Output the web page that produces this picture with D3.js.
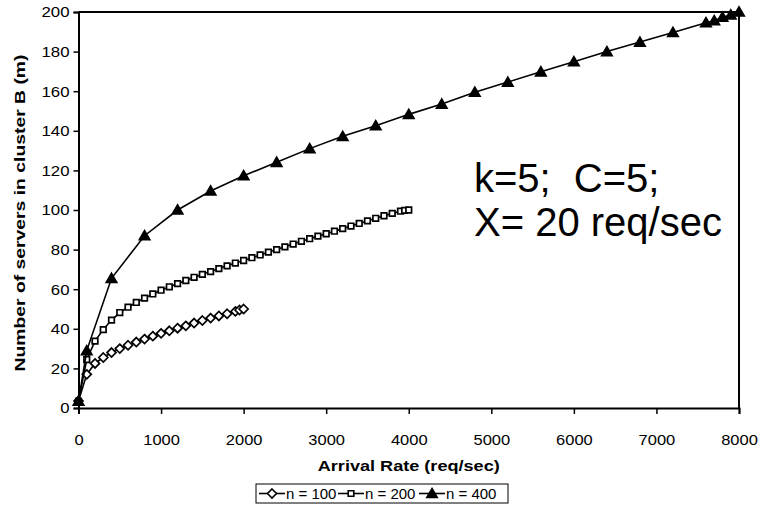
<!DOCTYPE html>
<html><head><meta charset="utf-8">
<script src="https://cdn.jsdelivr.net/npm/d3@7"></script>
<style>
body{margin:0;background:#fff}
svg{display:block}
text{font-family:"Liberation Sans",Arial,Helvetica,sans-serif;fill:#000}
</style>
</head><body>
<svg id="c" width="761" height="510"></svg>
<script>
// ---- data ----
const xTickValues = [0,1000,2000,3000,4000,5000,6000,7000,8000];
const yTickValues = [0,20,40,60,80,100,120,140,160,180,200];
const seriesNames = ["n = 100","n = 200","n = 400"];
const xTitle = "Arrival Rate (req/sec)";
const yTitle = "Number of servers in cluster B (m)";
const annotationLines = ["k=5; C=5;", "X= 20 req/sec"];

const rates100   = [0,100,200,300,400,500,600,700,800,900,1000,1100,1200,1300,1400,1500,1600,1700,1800,1900,1950,2000];
const servers100 = [3.5,17,22.5,25.5,28,30,31.7,33.3,34.8,36.3,37.7,39,40.3,41.5,42.9,44.2,45.4,46.5,47.6,48.8,49.5,50];

const rates200   = [0,100,200,300,400,500,600,700,800,900,1000,1100,1200,1300,1400,1500,1600,1700,1800,1900,2000,2100,2200,2300,2400,2500,2600,2700,2800,2900,3000,3100,3200,3300,3400,3500,3600,3700,3800,3900,3950,4000];
const servers200 = [3.5,24.5,33.8,39.6,44.4,48.2,50.9,53.3,55.5,57.6,59.5,61.2,62.8,64.4,66,67.5,68.9,70.4,71.8,73.2,74.5,75.9,77.3,78.7,80,81.4,82.8,84.2,85.5,86.8,88,89.3,90.6,91.9,93.2,94.5,95.8,97.1,98.3,99.4,99.8,100];

const rates400   = [0,100,400,800,1200,1600,2000,2400,2800,3200,3600,4000,4400,4800,5200,5600,6000,6400,6800,7200,7600,7700,7800,7900,8000];
const servers400 = [3.5,29,65.5,87,100,109.6,117.3,124.1,131,137.2,142.6,148.3,153.5,159.5,164.6,169.8,174.9,180,184.8,189.7,194.6,195.6,197.4,198.5,200];

// ---- layout ----
const svg = d3.select("#c");
const L = 78.5, R = 739, T = 12, B = 408;
const x = d3.scaleLinear().domain([0,8000]).range([L,R]);
const y = d3.scaleLinear().domain([0,200]).range([B,T]);

const markerPaths = {
  diamond: "M0,-4.5L4.5,0L0,4.5L-4.5,0Z",
  square: "M-2.8,-2.8H2.8V2.8H-2.8Z",
  triangle: "M0,-5L5.2,4L-5.2,4Z"
};
const series = [
  {name: seriesNames[0], xs: rates100, ys: servers100, marker: "diamond", fill: "#fff"},
  {name: seriesNames[1], xs: rates200, ys: servers200, marker: "square", fill: "#fff"},
  {name: seriesNames[2], xs: rates400, ys: servers400, marker: "triangle", fill: "#000"}
];

// frame (top & right)
svg.append("path")
  .attr("d", `M${L},${T}H${R}V${B}`)
  .attr("fill","none").attr("stroke","#000").attr("stroke-width",2);

// axes
const xAxis = svg.append("g").attr("transform",`translate(0,${B})`)
  .call(d3.axisBottom(x).tickValues(xTickValues).tickSize(6).tickPadding(20).tickFormat(d3.format("d")));
const yAxis = svg.append("g").attr("transform",`translate(${L},0)`)
  .call(d3.axisLeft(y).tickValues(yTickValues).tickSize(5).tickFormat(d3.format("d")));
[xAxis,yAxis].forEach(a=>{
  a.select(".domain").attr("stroke","#000").attr("stroke-width",2);
  a.selectAll(".tick line").attr("stroke","#000").attr("stroke-width",1.5);
  a.selectAll(".tick text").attr("font-size",15).attr("font-family",null);
});
xAxis.selectAll(".tick text").each(function(){
  const t = d3.select(this); const yy = +t.attr("y");
  t.attr("y",0).attr("dy","0.71em").attr("transform",`translate(0,${yy}) scale(1.1,1)`);
});
yAxis.selectAll(".tick text").each(function(){
  const t = d3.select(this); const xx = +t.attr("x");
  t.attr("x",0).attr("transform",`translate(${xx-1},0) scale(1.12,1)`);
});

// titles
svg.append("text").attr("x",(L+R)/2).attr("y",471)
  .attr("text-anchor","middle").attr("font-weight","bold").attr("font-size",15.5)
  .attr("textLength",182).attr("lengthAdjust","spacingAndGlyphs").text(xTitle);
svg.append("text").attr("transform",`translate(25,213) rotate(-90)`)
  .attr("text-anchor","middle").attr("font-weight","bold").attr("font-size",15.5)
  .attr("textLength",317).attr("lengthAdjust","spacingAndGlyphs").text(yTitle);

// series
const line = d3.line().x(d=>x(d[0])).y(d=>y(d[1]));
series.forEach(s=>{
  const pts = s.xs.map((v,i)=>[v,s.ys[i]]);
  svg.append("path").datum(pts).attr("d",line)
    .attr("fill","none").attr("stroke","#000").attr("stroke-width",1.6);
  svg.append("g").selectAll("path").data(pts).join("path")
    .attr("d",markerPaths[s.marker])
    .attr("transform",d=>`translate(${x(d[0])},${y(d[1])})`)
    .attr("fill",s.fill).attr("stroke","#000").attr("stroke-width",1.7);
});

// annotation
svg.append("text").attr("x",474).attr("y",192).attr("font-size",40)
  .attr("word-spacing",12).text(annotationLines[0]);
svg.append("text").attr("x",474).attr("y",236).attr("font-size",40).text(annotationLines[1]);

// legend
const lg = svg.append("g");
lg.append("rect").attr("x",256).attr("y",484).attr("width",252).attr("height",19)
  .attr("fill","#fff").attr("stroke","#000").attr("stroke-width",1);
const itemX = [259, 338, 419];
series.forEach((s,i)=>{
  const x0 = itemX[i], cy = 493.5;
  lg.append("line").attr("x1",x0).attr("x2",x0+26).attr("y1",cy).attr("y2",cy)
    .attr("stroke","#000").attr("stroke-width",1.6);
  lg.append("path").attr("d",markerPaths[s.marker]).attr("transform",`translate(${x0+13},${cy})`)
    .attr("fill",s.fill).attr("stroke","#000").attr("stroke-width",1.6);
  lg.append("text").attr("x",x0+27).attr("y",cy+5.5).attr("font-size",15).text(s.name);
});
</script>
</body></html>
